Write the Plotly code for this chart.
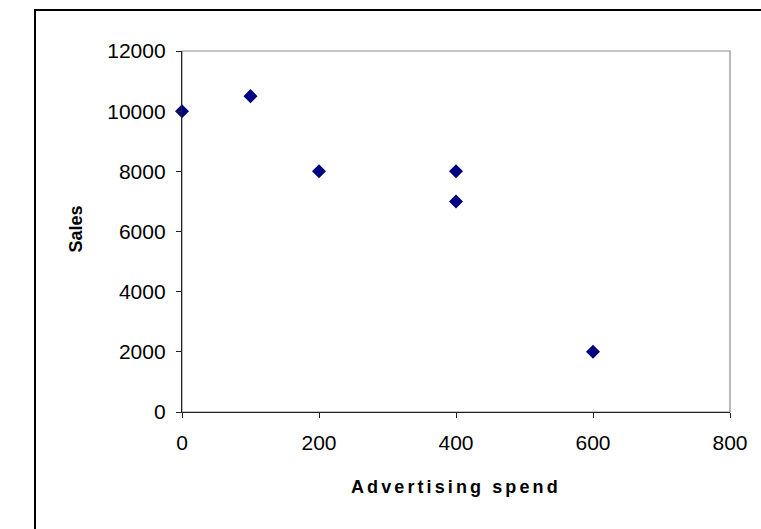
import plotly.graph_objects as go

ad_spend = [0, 100, 200, 400, 400, 600]
sales = [10000, 10500, 8000, 8000, 7000, 2000]
x_ticks = [0, 200, 400, 600, 800]
y_ticks = [0, 2000, 4000, 6000, 8000, 10000, 12000]

W, H = 761, 529
L, R, T, B = 182, 31, 51, 117
pw, ph = W - L - R, H - T - B

fig = go.Figure()
fig.add_trace(go.Scatter(
    x=ad_spend, y=sales, mode="markers",
    marker=dict(symbol="diamond", size=10.8, color="#000080", line=dict(width=0)),
    cliponaxis=False, showlegend=False,
))

font = dict(family="Liberation Sans, Arial, sans-serif", color="black")

fig.update_layout(
    width=W, height=H,
    margin=dict(l=L, r=R, t=T, b=B, pad=0),
    paper_bgcolor="white", plot_bgcolor="white",
    font=dict(**font, size=21),
    xaxis=dict(range=[0, 800], tickvals=x_ticks, ticktext=[str(v) for v in x_ticks],
               showgrid=False, zeroline=False,
               showline=True, linecolor="#222", linewidth=1.3, ticks="outside",
               ticklen=5, tickcolor="#222", tickwidth=1, ticklabelstandoff=7,
               tickfont=dict(size=21)),
    yaxis=dict(range=[0, 12000], tickvals=y_ticks, ticktext=[str(v) for v in y_ticks],
               showgrid=False, zeroline=False,
               showline=True, linecolor="#222", linewidth=1.3, ticks="outside",
               ticklen=5, tickcolor="#222", tickwidth=1, ticklabelstandoff=6,
               tickfont=dict(size=21)),
    shapes=[
        dict(type="rect", xref="paper", yref="paper", x0=0, x1=1, y0=0, y1=1,
             line=dict(color="#8c8c8c", width=1.2), layer="below"),
        dict(type="rect", xref="paper", yref="paper",
             x0=(35 - L) / pw, x1=(W + 20 - L) / pw,
             y0=-(H + 20 - T - ph) / ph, y1=1 + (T - 10) / ph,
             line=dict(color="black", width=2), layer="below"),
    ],
    annotations=[
        dict(text='<span style="letter-spacing:3.1px">Advertising spend</span>',
             xref="paper", yref="paper", x=0.5, y=-(487 - T - ph) / ph,
             xanchor="center", yanchor="middle", showarrow=False,
             font=dict(**font, size=18, weight="bold")),
        dict(text="Sales", textangle=-90,
             xref="paper", yref="paper", x=(75.5 - L) / pw, y=(T + ph - 229) / ph,
             xanchor="center", yanchor="middle", showarrow=False,
             font=dict(**font, size=18, weight="bold")),
    ],
)

fig.write_html("out.html")
